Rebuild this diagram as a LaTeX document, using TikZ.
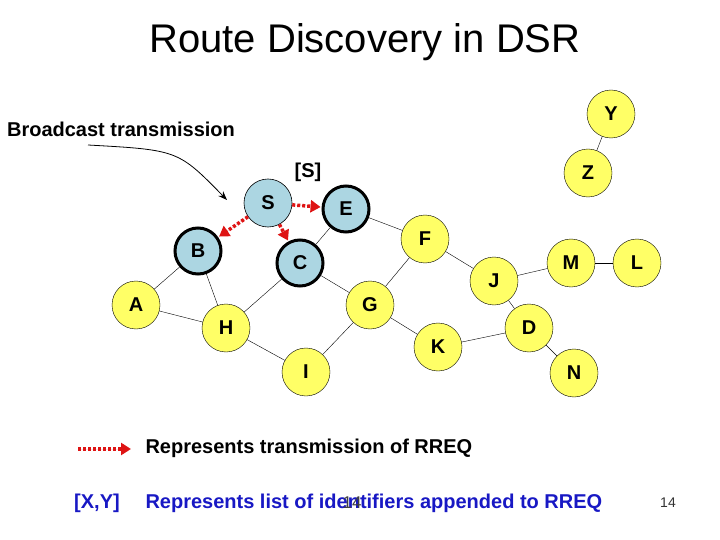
\documentclass[tikz,border=0pt]{standalone}
\usepackage{fontspec}
\setmainfont{Liberation Sans}
\usetikzlibrary{arrows.meta,positioning}
\definecolor{nodeyellow}{RGB}{255,255,102}
\definecolor{nodeblue}{RGB}{172,214,226}
\definecolor{rreqred}{RGB}{222,20,20}
\definecolor{listblue}{RGB}{24,24,196}

\begin{document}
\begin{tikzpicture}[x=1pt, y=-1pt,
    yellownode/.style={circle, draw, fill=nodeyellow, minimum size=48pt, inner sep=0pt, font=\fontsize{20}{22}\selectfont\bfseries},
    bluenode/.style={circle, draw, line width=3pt, fill=nodeblue, minimum size=46pt, inner sep=0pt, font=\fontsize{20}{22}\selectfont\bfseries},
    link/.style={draw, thin},
    rreq/.style={draw=rreqred, fill=rreqred, line width=3.5pt, dash pattern=on 3pt off 2pt, -{Triangle[length=10pt, width=12pt]}, shorten >=1pt}]
  \useasboundingbox (0, 0) rectangle (720, 540);
  % Header
  \node (title) at (365, 42) {\fontsize{40}{46}\selectfont Route Discovery in DSR};
  % Nodes
  \node (Y) [yellownode] at (611, 114) {Y};
  \node (Z) [yellownode] at (588, 173) {Z};
  \node (S) [bluenode, line width=0.6pt, minimum size=48pt] at (268, 203) {S};
  \node (E) [bluenode] at (346, 209) {E};
  \node (F) [yellownode] at (425, 239) {F};
  \node (B) [bluenode] at (198, 251) {B};
  \node (C) [bluenode] at (300, 263) {C};
  \node (J) [yellownode] at (494, 281) {J};
  \node (M) [yellownode] at (571, 263) {M};
  \node (L) [yellownode] at (637, 263) {L};
  \node (A) [yellownode] at (136, 305) {A};
  \node (G) [yellownode] at (370, 305) {G};
  \node (H) [yellownode] at (226, 328) {H};
  \node (D) [yellownode] at (529, 328) {D};
  \node (K) [yellownode] at (438, 347) {K};
  \node (I) [yellownode] at (306, 372) {I};
  \node (N) [yellownode] at (574, 373) {N};
  % Links
  \draw[link] (Y) -- (Z);
  \draw[link] (E) -- (F);
  \draw[link] (E) -- (C);
  \draw[link] (B) -- (A);
  \draw[link] (B) -- (H);
  \draw[link] (C) -- (H);
  \draw[link] (C) -- (G);
  \draw[link] (F) -- (G);
  \draw[link] (F) -- (J);
  \draw[link] (A) -- (H);
  \draw[link] (H) -- (I);
  \draw[link] (G) -- (I);
  \draw[link] (G) -- (K);
  \draw[link] (J) -- (M);
  \draw[link] (J) -- (D);
  \draw[link] (M) -- (L);
  \draw[link] (K) -- (D);
  \draw[link] (D) -- (N);
  % RREQ arrows
  \draw[rreq] (S) -- (E);
  \draw[rreq] (S) -- (B);
  \draw[rreq] (S) -- (C);
  % Labels
  \node (bcast) at (121, 129) {\fontsize{20}{22}\selectfont\bfseries Broadcast transmission};
  \node (idS) at (308, 172) {\fontsize{20}{22}\selectfont\bfseries [S]};
  \coordinate (bcstart) at (88, 145);
  \coordinate (bcend) at (227, 200);
  \draw[thick, -{Stealth[length=9pt]}] (bcstart) .. controls (178, 150) .. (bcend);
  % Legend
  \coordinate (legA) at (78, 449);
  \coordinate (legB) at (132, 449);
  \draw[rreq] (legA) -- (legB);
  \node (legrreq) [anchor=west] at (142, 448) {\fontsize{20}{22}\selectfont\bfseries Represents transmission of RREQ};
  \node (legxy) [text=listblue] at (97, 503) {\fontsize{20}{22}\selectfont\bfseries [X,Y]};
  \node (leglist) [anchor=west, text=listblue] at (142, 503) {\fontsize{20}{22}\selectfont\bfseries Represents list of identifiers appended to RREQ};
  \node (pgover) [text=black!75] at (352, 503) {\fontsize{17}{19}\selectfont 14};
  \node (pgnum) [text=black!80] at (668, 503) {\fontsize{14}{16}\selectfont 14};
\end{tikzpicture}
\end{document}
